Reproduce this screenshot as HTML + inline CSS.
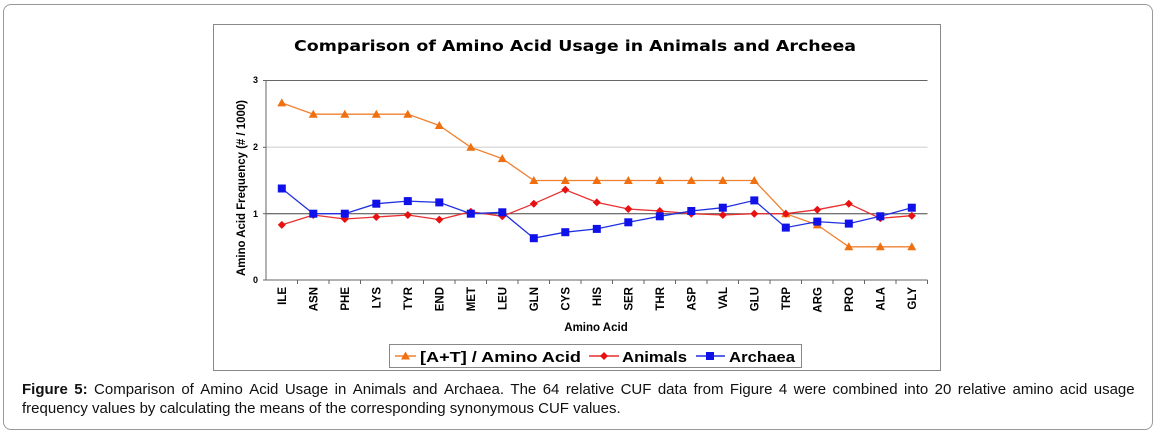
<!DOCTYPE html>
<html><head><meta charset="utf-8"><style>
body{margin:0;background:#fff;width:1156px;height:435px;overflow:hidden;font-family:"Liberation Sans",sans-serif}
.outer{position:absolute;left:3px;top:4px;width:1148px;height:424px;border:1px solid #999;border-radius:8px}
.cap{position:absolute;left:22px;top:380px;width:1113px;font-size:15px;line-height:19px;color:#111}
.l1{text-align:justify;text-align-last:justify;white-space:nowrap;display:flex;justify-content:space-between}
.l1 span{display:inline}
.l2{white-space:nowrap}
</style></head><body>
<div class="outer"></div>
<svg width="1156" height="435" style="position:absolute;left:0;top:0" font-family="Liberation Sans, sans-serif">
<rect x="213.5" y="24.5" width="727" height="346" fill="#fff" stroke="#888" stroke-width="1"/>
<text x="575" y="51" text-anchor="middle" font-family="DejaVu Sans, sans-serif" font-weight="bold" font-size="15" textLength="562" lengthAdjust="spacingAndGlyphs">Comparison of Amino Acid Usage in Animals and Archeea</text>
<line x1="266" y1="147.3" x2="927.5" y2="147.3" stroke="#ddd" stroke-width="1.5"/>
<line x1="266" y1="80.5" x2="927.5" y2="80.5" stroke="#666" stroke-width="1"/>
<line x1="266" y1="213.7" x2="927.5" y2="213.7" stroke="#444" stroke-width="1"/>
<line x1="266" y1="80" x2="266" y2="280" stroke="#666"/>
<line x1="263" y1="280" x2="927.5" y2="280" stroke="#666"/>
<g stroke="#666"><line x1="263" y1="80.5" x2="266" y2="80.5"/><line x1="263" y1="147.3" x2="266" y2="147.3"/><line x1="263" y1="213.7" x2="266" y2="213.7"/>
<path d="M297.5 280v4M329 280v4M360.5 280v4M392 280v4M423.5 280v4M455 280v4M486.5 280v4M518 280v4M549.5 280v4M581 280v4M612.5 280v4M644 280v4M675.5 280v4M707 280v4M738.5 280v4M770 280v4M801.5 280v4M833 280v4M864.5 280v4M896 280v4M927.5 280v4"/></g>
<g font-size="9" font-weight="bold" text-anchor="end"><text x="258" y="83">3</text><text x="258" y="150">2</text><text x="258" y="217">1</text><text x="258" y="283">0</text></g>
<text transform="translate(245,188) rotate(-90)" text-anchor="middle" font-size="12" font-weight="bold" textLength="176" lengthAdjust="spacingAndGlyphs">Amino Acid Frequency (# / 1000)</text>
<g font-size="11.5" font-weight="bold" text-anchor="end">
<text transform="translate(286,287) rotate(-90)">ILE</text>
<text transform="translate(317.5,287) rotate(-90)">ASN</text>
<text transform="translate(349,287) rotate(-90)">PHE</text>
<text transform="translate(380.5,287) rotate(-90)">LYS</text>
<text transform="translate(412,287) rotate(-90)">TYR</text>
<text transform="translate(443.5,287) rotate(-90)">END</text>
<text transform="translate(475,287) rotate(-90)">MET</text>
<text transform="translate(506.5,287) rotate(-90)">LEU</text>
<text transform="translate(538,287) rotate(-90)">GLN</text>
<text transform="translate(569.5,287) rotate(-90)">CYS</text>
<text transform="translate(601,287) rotate(-90)">HIS</text>
<text transform="translate(632.5,287) rotate(-90)">SER</text>
<text transform="translate(664,287) rotate(-90)">THR</text>
<text transform="translate(695.5,287) rotate(-90)">ASP</text>
<text transform="translate(727,287) rotate(-90)">VAL</text>
<text transform="translate(758.5,287) rotate(-90)">GLU</text>
<text transform="translate(790,287) rotate(-90)">TRP</text>
<text transform="translate(821.5,287) rotate(-90)">ARG</text>
<text transform="translate(853,287) rotate(-90)">PRO</text>
<text transform="translate(884.5,287) rotate(-90)">ALA</text>
<text transform="translate(916,287) rotate(-90)">GLY</text>
</g>
<text x="596" y="331" text-anchor="middle" font-size="11.5" font-weight="bold">Amino Acid</text>
<defs>
<path id="tri" d="M0 -4.5L4.5 3.5L-4.5 3.5Z" fill="#f07010"/>
<path id="dia" d="M0 -4L4 0L0 4L-4 0Z" fill="#e81010"/>
<rect id="sq" x="-4" y="-4" width="8" height="8" fill="#1010e8"/>
</defs>
<polyline fill="none" stroke="#f08030" stroke-width="1.3" points="281.8,102.9 313.3,114.2 344.8,114.2 376.3,114.2 407.8,114.2 439.3,125.5 470.8,147.3 502.3,158.6 533.8,180.5 565.3,180.5 596.8,180.5 628.3,180.5 659.8,180.5 691.3,180.5 722.8,180.5 754.3,180.5 785.8,213.7 817.3,224.9 848.8,246.8 880.3,246.8 911.8,246.8"/>
<polyline fill="none" stroke="#e83030" stroke-width="1.3" points="281.8,224.9 313.3,215 344.8,219 376.3,217 407.8,215 439.3,219.6 470.8,211.7 502.3,216.3 533.8,203.7 565.3,189.8 596.8,202.4 628.3,209 659.8,211 691.3,213.7 722.8,215 754.3,213.7 785.8,213.7 817.3,209.7 848.8,203.7 880.3,218.3 911.8,215.7"/>
<polyline fill="none" stroke="#2030e0" stroke-width="1.3" points="281.8,188.5 313.3,213.7 344.8,213.7 376.3,203.7 407.8,201.1 439.3,202.4 470.8,213.7 502.3,212.3 533.8,238.2 565.3,232.2 596.8,228.9 628.3,222.3 659.8,216.3 691.3,211 722.8,207.7 754.3,200.4 785.8,227.6 817.3,221.6 848.8,223.6 880.3,216.3 911.8,207.7"/>
<g>
<use href="#tri" x="281.8" y="102.9"/><use href="#tri" x="313.3" y="114.2"/><use href="#tri" x="344.8" y="114.2"/><use href="#tri" x="376.3" y="114.2"/><use href="#tri" x="407.8" y="114.2"/><use href="#tri" x="439.3" y="125.5"/><use href="#tri" x="470.8" y="147.3"/><use href="#tri" x="502.3" y="158.6"/><use href="#tri" x="533.8" y="180.5"/><use href="#tri" x="565.3" y="180.5"/><use href="#tri" x="596.8" y="180.5"/><use href="#tri" x="628.3" y="180.5"/><use href="#tri" x="659.8" y="180.5"/><use href="#tri" x="691.3" y="180.5"/><use href="#tri" x="722.8" y="180.5"/><use href="#tri" x="754.3" y="180.5"/><use href="#tri" x="785.8" y="213.7"/><use href="#tri" x="817.3" y="224.9"/><use href="#tri" x="848.8" y="246.8"/><use href="#tri" x="880.3" y="246.8"/><use href="#tri" x="911.8" y="246.8"/>
</g>
<g>
<use href="#dia" x="281.8" y="224.9"/><use href="#dia" x="313.3" y="215"/><use href="#dia" x="344.8" y="219"/><use href="#dia" x="376.3" y="217"/><use href="#dia" x="407.8" y="215"/><use href="#dia" x="439.3" y="219.6"/><use href="#dia" x="470.8" y="211.7"/><use href="#dia" x="502.3" y="216.3"/><use href="#dia" x="533.8" y="203.7"/><use href="#dia" x="565.3" y="189.8"/><use href="#dia" x="596.8" y="202.4"/><use href="#dia" x="628.3" y="209"/><use href="#dia" x="659.8" y="211"/><use href="#dia" x="691.3" y="213.7"/><use href="#dia" x="722.8" y="215"/><use href="#dia" x="754.3" y="213.7"/><use href="#dia" x="785.8" y="213.7"/><use href="#dia" x="817.3" y="209.7"/><use href="#dia" x="848.8" y="203.7"/><use href="#dia" x="880.3" y="218.3"/><use href="#dia" x="911.8" y="215.7"/>
</g>
<g>
<use href="#sq" x="281.8" y="188.5"/><use href="#sq" x="313.3" y="213.7"/><use href="#sq" x="344.8" y="213.7"/><use href="#sq" x="376.3" y="203.7"/><use href="#sq" x="407.8" y="201.1"/><use href="#sq" x="439.3" y="202.4"/><use href="#sq" x="470.8" y="213.7"/><use href="#sq" x="502.3" y="212.3"/><use href="#sq" x="533.8" y="238.2"/><use href="#sq" x="565.3" y="232.2"/><use href="#sq" x="596.8" y="228.9"/><use href="#sq" x="628.3" y="222.3"/><use href="#sq" x="659.8" y="216.3"/><use href="#sq" x="691.3" y="211"/><use href="#sq" x="722.8" y="207.7"/><use href="#sq" x="754.3" y="200.4"/><use href="#sq" x="785.8" y="227.6"/><use href="#sq" x="817.3" y="221.6"/><use href="#sq" x="848.8" y="223.6"/><use href="#sq" x="880.3" y="216.3"/><use href="#sq" x="911.8" y="207.7"/>
</g>
<rect x="389.5" y="344.5" width="412" height="23" fill="#fff" stroke="#888"/>
<line x1="395" y1="356" x2="416" y2="356" stroke="#f08030" stroke-width="1.5"/><use href="#tri" x="405.5" y="356"/>
<text x="420" y="362" font-size="15" font-weight="bold" textLength="161" lengthAdjust="spacingAndGlyphs">[A+T] / Amino Acid</text>
<line x1="589" y1="356" x2="619" y2="356" stroke="#e83030" stroke-width="1.5"/><use href="#dia" x="604" y="356"/>
<text x="622" y="362" font-size="15" font-weight="bold" textLength="65" lengthAdjust="spacingAndGlyphs">Animals</text>
<line x1="696" y1="356" x2="725" y2="356" stroke="#2030e0" stroke-width="1.5"/><use href="#sq" x="710" y="356"/>
<text x="729" y="362" font-size="15" font-weight="bold" textLength="66" lengthAdjust="spacingAndGlyphs">Archaea</text>
</svg>
<div class="cap">
<div class="l1"><span><b>Figure</b></span><span><b>5:</b></span><span>Comparison</span><span>of</span><span>Amino</span><span>Acid</span><span>Usage</span><span>in</span><span>Animals</span><span>and</span><span>Archaea.</span><span>The</span><span>64</span><span>relative</span><span>CUF</span><span>data</span><span>from</span><span>Figure</span><span>4</span><span>were</span><span>combined</span><span>into</span><span>20</span><span>relative</span><span>amino</span><span>acid</span><span>usage</span></div>
<div class="l2">frequency values by calculating the means of the corresponding synonymous CUF values.</div>
</div>
</body></html>
